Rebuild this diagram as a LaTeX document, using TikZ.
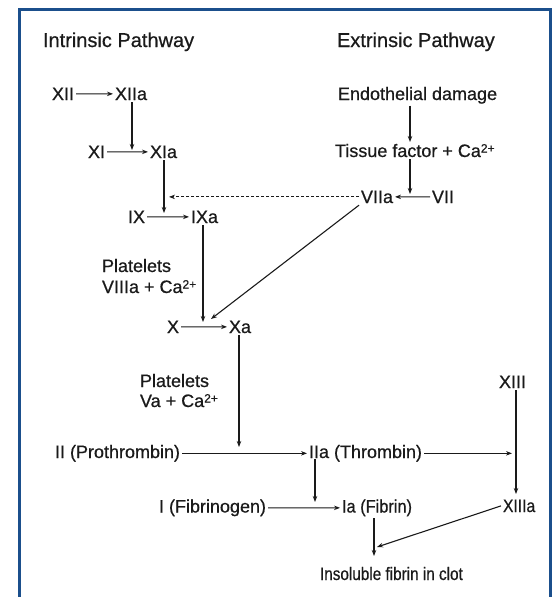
\documentclass[tikz,border=0pt]{standalone}
\usepackage{fontspec}
\setmainfont{Liberation Sans}
\newfontfamily\scanfont[FakeBold=0.6]{Liberation Sans}
\usetikzlibrary{arrows.meta}
\definecolor{frameblue}{HTML}{1B4F8C}
\definecolor{ink}{HTML}{1A1A1A}
\newcommand{\casup}{Ca\raisebox{4.5pt}{\fontsize{12}{12}\selectfont 2+}}
\begin{document}
\begin{tikzpicture}[x=1pt,y=-1pt,
  lbl/.style={inner sep=2pt, outer sep=0pt, font=\scanfont\fontsize{18}{21}\selectfont, text=ink, anchor=base west},
  hdr/.style={lbl, font=\scanfont\fontsize{20}{24}\selectfont},
  arr/.style={-{Stealth[length=6pt,width=4.5pt]}, line width=1.1pt, draw=ink},
  dasharr/.style={arr, line width=0.9pt, dash pattern=on 3pt off 2pt}]
\useasboundingbox (0,0) rectangle (555,597);
\fill[white] (0,0) rectangle (555,597);
\draw[line width=3pt, frameblue] (19.5,597) -- (19.5,9.5) -- (550.5,9.5) -- (550.5,597);

% nodes
\node[hdr] (intr) at (41,47) {Intrinsic Pathway};
\node[hdr] (extr) at (335,47) {Extrinsic Pathway};
\node[lbl] (xii) at (50,100) {XII};
\node[lbl] (xiia) at (113,100) {XIIa};
\node[lbl] (endo) at (336,100) {Endothelial damage};
\node[lbl] (xi) at (86,158) {XI};
\node[lbl] (xia) at (148,158) {XIa};
\node[lbl] (tf) at (333,157) {Tissue factor + \casup};
\node[lbl] (viia) at (359,203) {VIIa};
\node[lbl] (vii) at (430,203) {VII};
\node[lbl] (ix) at (126,223) {IX};
\node[lbl] (ixa) at (189,223) {IXa};
\node[lbl] (pla) at (100,272) {Platelets};
\node[lbl] (plb) at (100,293) {VIIIa + \casup};
\node[lbl] (fx) at (165,333) {X};
\node[lbl] (fxa) at (227,333) {Xa};
\node[lbl] (plc) at (138,387) {Platelets};
\node[lbl] (pld) at (138,407) {Va + \casup};
\node[lbl] (xiii) at (497,388) {XIII};
\node[lbl] (ii) at (53,458) {II (Prothrombin)};
\node[lbl] (iia) at (307,458) {IIa (Thrombin)};
\node[lbl] (fbg) at (157,512.5) {I (Fibrinogen)};
\node[lbl] (ia) at (340,512.5) {\scalebox{0.91}[1]{Ia (Fibrin)}};
\node[lbl] (xiiia) at (501,512) {\scalebox{0.87}[1]{XIIIa}};
\node[lbl] (clot) at (318,580) {\scalebox{0.85}[1]{Insoluble fibrin in clot}};

% junction coordinates
\coordinate (j1) at (132,150);
\coordinate (j2) at (164,213);
\coordinate (j3) at (169,197);
\coordinate (j4) at (203,322);
\coordinate (j5) at (211,319);
\coordinate (j6) at (239,447);
\coordinate (j7) at (512,452);
\coordinate (v13) at (516,494);
\coordinate (j8) at (315,502);
\coordinate (v8) at (315,459);
\coordinate (j9) at (374,556);
\coordinate (j10) at (377,547);
\coordinate (vtf) at (410,194);
\coordinate (vend) at (410,142);

% connectors
\draw[arr] (xii) -- (xiia);
\draw[arr] (xiia.south -| j1) -- (j1);
\draw[arr] (xi) -- (xia);
\draw[arr] (xia.south -| j2) -- (j2);
\draw[arr] (endo.south -| vend) -- (vend);
\draw[arr] (tf.south -| vtf) -- (vtf);
\draw[arr] (vii) -- (viia);
\draw[dasharr] (viia.west) -- (viia.west -| j3);
\draw[arr] (ix) -- (ixa);
\draw[arr] (ixa.south -| j4) -- (j4);
\draw[arr] (viia.south west) -- (j5);
\draw[arr] (fx) -- (fxa);
\draw[arr] (fxa.south -| j6) -- (j6);
\draw[arr] (ii) -- (iia);
\draw[arr] (iia.east) -- (iia.east -| j7);
\draw[arr] (xiii.south -| v13) -- (v13);
\draw[arr] (v8) -- (j8);
\draw[arr] (fbg) -- (ia);
\draw[arr] (ia.south -| j9) -- (j9);
\draw[arr] (xiiia.west) -- (j10);
\end{tikzpicture}
\end{document}
